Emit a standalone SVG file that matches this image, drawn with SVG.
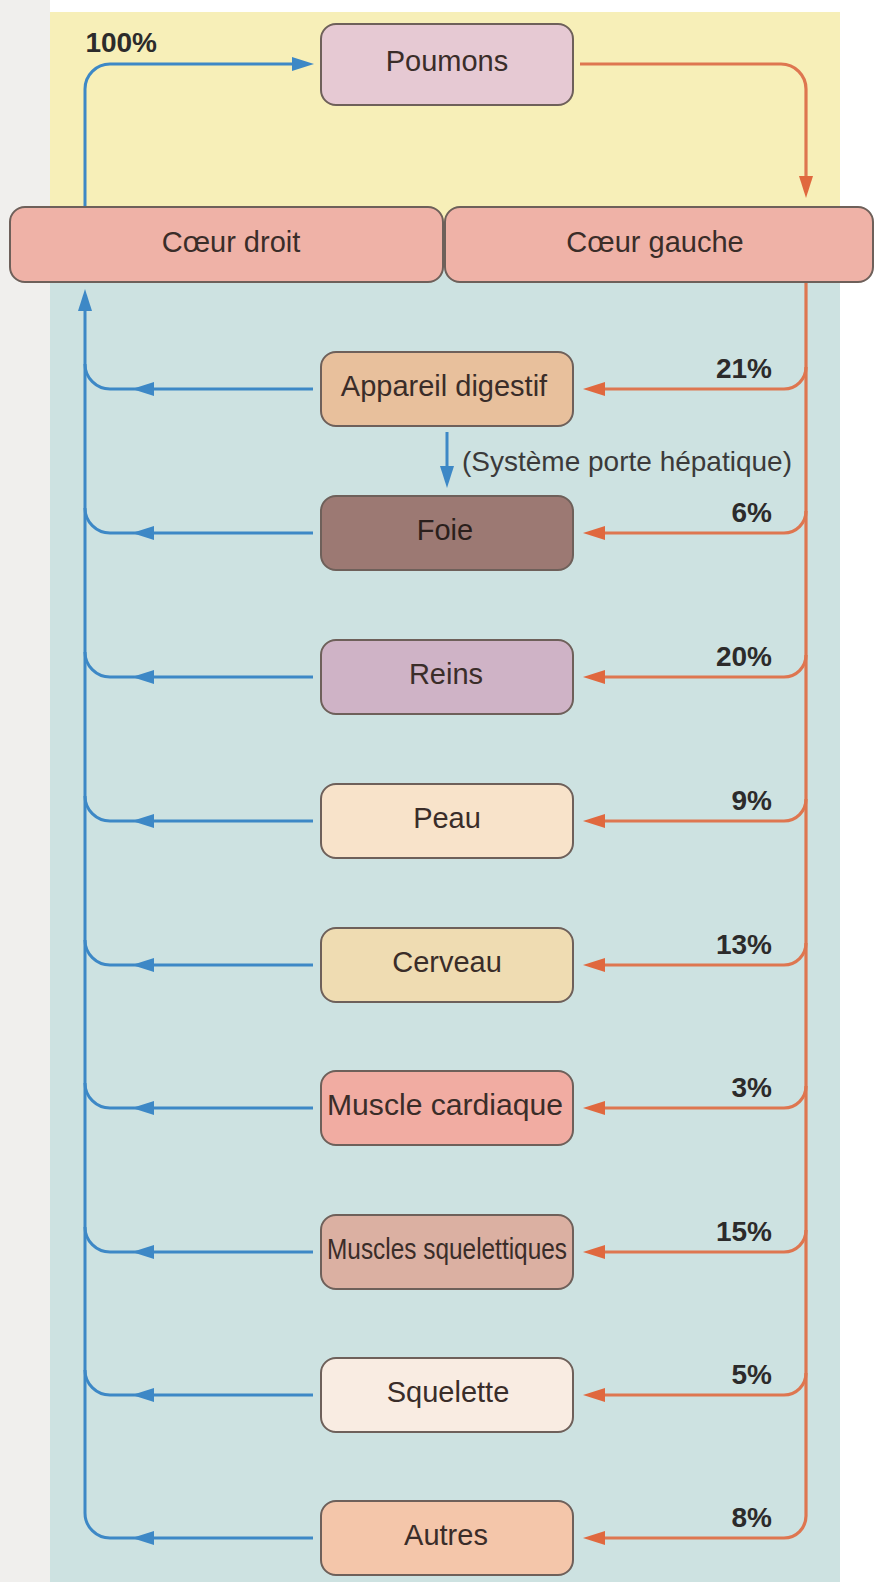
<svg xmlns="http://www.w3.org/2000/svg" xmlns:xlink="http://www.w3.org/1999/xlink" width="875" height="1582" viewBox="0 0 875 1582">
<style>
.box{stroke:#6e605a;stroke-width:2}
.lbl{font-family:"Liberation Sans",Arial,sans-serif;font-size:29px;fill:#3a2d29;text-anchor:middle}
.pct{font-family:"Liberation Sans",Arial,sans-serif;font-size:28px;font-weight:bold;fill:#2c2b2b;text-anchor:end}
.note{font-family:"Liberation Sans",Arial,sans-serif;font-size:28px;fill:#3b3a3a}
.bl{fill:none;stroke:#3d88c6;stroke-width:3}
.or{fill:none;stroke:#de7650;stroke-width:3.2}
.bh{fill:#3d88c6}
.oh{fill:#e0683e}
</style>
<defs>
<path id="ahL" d="M0,0 L22,-7 L22,7 Z"/>
<path id="ahR" d="M0,0 L-22,-7 L-22,7 Z"/>
<path id="ahU" d="M0,0 L-7,22 L7,22 Z"/>
<path id="ahD" d="M0,0 L-7,-22 L7,-22 Z"/>
</defs>
<rect x="0" y="0" width="875" height="1582" fill="#ffffff"/>
<rect x="0" y="0" width="50" height="1582" fill="#f0efed"/>
<rect x="50" y="12" width="790" height="236" fill="#f7efb8"/>
<rect x="50" y="248" width="790" height="1334" fill="#cde2e1"/>

<g id="connectors">
<path class="bl" d="M85 207 V89 A25 25 0 0 1 110 64 H295"/>
<use href="#ahR" x="314" y="64" class="bh"/>
<path class="or" d="M580 64 H781 A25 25 0 0 1 806 89 V178"/>
<use href="#ahD" x="806" y="198" class="oh"/>
<path class="bl" d="M313 1538 H110 A25 25 0 0 1 85 1513 V305"/>
<use href="#ahU" x="85" y="289" class="bh"/>
<path class="or" d="M806 283 V1516 A22 22 0 0 1 784 1538 H600"/>
<use href="#ahL" x="583" y="1538" class="oh"/>
<use href="#ahL" x="132" y="1538" class="bh"/>
<g id="branches">
<path class="bl" d="M313 389 H110 A25 25 0 0 1 85 364"/><use href="#ahL" x="132" y="389" class="bh"/>
<path class="or" d="M806 367 A22 22 0 0 1 784 389 H600"/><use href="#ahL" x="583" y="389" class="oh"/>
<path class="bl" d="M313 533 H110 A25 25 0 0 1 85 508"/><use href="#ahL" x="132" y="533" class="bh"/>
<path class="or" d="M806 511 A22 22 0 0 1 784 533 H600"/><use href="#ahL" x="583" y="533" class="oh"/>
<path class="bl" d="M313 677 H110 A25 25 0 0 1 85 652"/><use href="#ahL" x="132" y="677" class="bh"/>
<path class="or" d="M806 655 A22 22 0 0 1 784 677 H600"/><use href="#ahL" x="583" y="677" class="oh"/>
<path class="bl" d="M313 821 H110 A25 25 0 0 1 85 796"/><use href="#ahL" x="132" y="821" class="bh"/>
<path class="or" d="M806 799 A22 22 0 0 1 784 821 H600"/><use href="#ahL" x="583" y="821" class="oh"/>
<path class="bl" d="M313 965 H110 A25 25 0 0 1 85 940"/><use href="#ahL" x="132" y="965" class="bh"/>
<path class="or" d="M806 943 A22 22 0 0 1 784 965 H600"/><use href="#ahL" x="583" y="965" class="oh"/>
<path class="bl" d="M313 1108 H110 A25 25 0 0 1 85 1083"/><use href="#ahL" x="132" y="1108" class="bh"/>
<path class="or" d="M806 1086 A22 22 0 0 1 784 1108 H600"/><use href="#ahL" x="583" y="1108" class="oh"/>
<path class="bl" d="M313 1252 H110 A25 25 0 0 1 85 1227"/><use href="#ahL" x="132" y="1252" class="bh"/>
<path class="or" d="M806 1230 A22 22 0 0 1 784 1252 H600"/><use href="#ahL" x="583" y="1252" class="oh"/>
<path class="bl" d="M313 1395 H110 A25 25 0 0 1 85 1370"/><use href="#ahL" x="132" y="1395" class="bh"/>
<path class="or" d="M806 1373 A22 22 0 0 1 784 1395 H600"/><use href="#ahL" x="583" y="1395" class="oh"/>
</g>
<path class="bl" d="M447 432 V468"/>
<use href="#ahD" x="447" y="488" class="bh"/>
</g>

<g id="labels">
<text class="pct" x="157" y="52" style="text-anchor:end">100%</text>
<text class="note" x="462" y="471">(Système porte hépatique)</text>
<text class="pct" x="772" y="378">21%</text>
<text class="pct" x="772" y="522">6%</text>
<text class="pct" x="772" y="666">20%</text>
<text class="pct" x="772" y="810">9%</text>
<text class="pct" x="772" y="954">13%</text>
<text class="pct" x="772" y="1097">3%</text>
<text class="pct" x="772" y="1241">15%</text>
<text class="pct" x="772" y="1384">5%</text>
<text class="pct" x="772" y="1527">8%</text>
</g>

<g id="poumons"><rect class="box" x="321" y="24" width="252" height="81" rx="15" fill="#e6c9d3"/><text class="lbl" x="447" y="71">Poumons</text></g>
<g id="coeur-droit"><rect class="box" x="10" y="207" width="433" height="75" rx="15" fill="#efb2a7"/><text class="lbl" x="231" y="252">Cœur droit</text></g>
<g id="coeur-gauche"><rect class="box" x="445" y="207" width="428" height="75" rx="15" fill="#efb2a7"/><text class="lbl" x="655" y="252">Cœur gauche</text></g>
<g id="appareil-digestif"><rect class="box" x="321" y="352" width="252" height="74" rx="15" fill="#e8c09c"/><text class="lbl" x="444" y="396">Appareil digestif</text></g>
<g id="foie"><rect class="box" x="321" y="496" width="252" height="74" rx="15" fill="#9c7973"/><text class="lbl" x="445" y="540" style="fill:#2b1f1c">Foie</text></g>
<g id="reins"><rect class="box" x="321" y="640" width="252" height="74" rx="15" fill="#cfb3c6"/><text class="lbl" x="446" y="684">Reins</text></g>
<g id="peau"><rect class="box" x="321" y="784" width="252" height="74" rx="15" fill="#f8e3ca"/><text class="lbl" x="447" y="828">Peau</text></g>
<g id="cerveau"><rect class="box" x="321" y="928" width="252" height="74" rx="15" fill="#efdcb2"/><text class="lbl" x="447" y="972">Cerveau</text></g>
<g id="muscle-cardiaque"><rect class="box" x="321" y="1071" width="252" height="74" rx="15" fill="#f1aca2"/><text class="lbl" x="445" y="1115" textLength="236" lengthAdjust="spacingAndGlyphs">Muscle cardiaque</text></g>
<g id="muscles-squelettiques"><rect class="box" x="321" y="1215" width="252" height="74" rx="15" fill="#dbb0a2"/><text class="lbl" x="447" y="1259" textLength="240" lengthAdjust="spacingAndGlyphs">Muscles squelettiques</text></g>
<g id="squelette"><rect class="box" x="321" y="1358" width="252" height="74" rx="15" fill="#f9ece2"/><text class="lbl" x="448" y="1402">Squelette</text></g>
<g id="autres"><rect class="box" x="321" y="1501" width="252" height="74" rx="15" fill="#f4c6aa"/><text class="lbl" x="446" y="1545">Autres</text></g>
</svg>
